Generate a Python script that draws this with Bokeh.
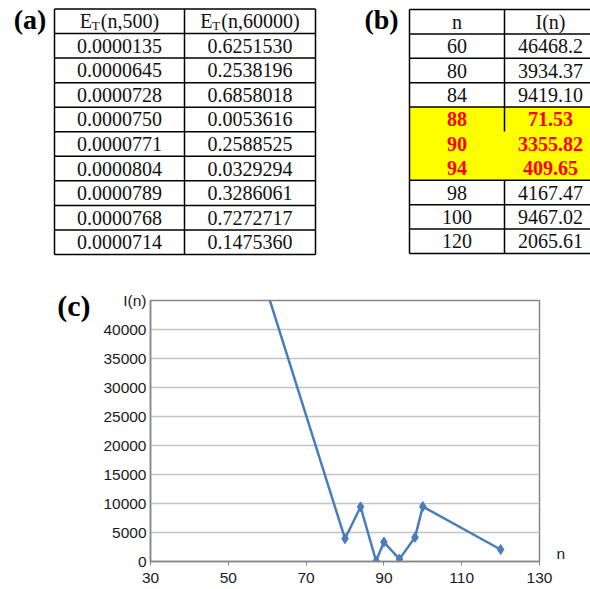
from bokeh.plotting import figure
from bokeh.layouts import column, row
from bokeh.models import Range1d, FixedTicker, LinearAxis
from bokeh.embed import file_html
from bokeh.resources import INLINE
from bokeh.core.properties import value

# ---------------- data ----------------
a_header_rest = ["(n,500)", "(n,60000)"]
a_e500 = ["0.0000135", "0.0000645", "0.0000728", "0.0000750", "0.0000771",
          "0.0000804", "0.0000789", "0.0000768", "0.0000714"]
a_e60000 = ["0.6251530", "0.2538196", "0.6858018", "0.0053616", "0.2588525",
            "0.0329294", "0.3286061", "0.7272717", "0.1475360"]

b_header = ["n", "I(n)"]
b_n = [60, 80, 84, 88, 90, 94, 98, 100, 120]
b_I = [46468.2, 3934.37, 9419.10, 71.53, 3355.82, 409.65, 4167.47, 9467.02, 2065.61]
b_I_text = ["46468.2", "3934.37", "9419.10", "71.53", "3355.82", "409.65",
            "4167.47", "9467.02", "2065.61"]
b_highlight = [False, False, False, True, True, True, False, False, False]

y_ticks = [0, 5000, 10000, 15000, 20000, 25000, 30000, 35000, 40000, 45000]
y_title = "I(n)"
x_ticks = [30, 50, 70, 90, 110, 130]
x_title = "n"
panel_c = "(c)"

SERIF = "Liberation Serif"
SANS = "Liberation Sans"
FS = "20px"

# ---------------- top: tables ----------------
top = figure(width=590, height=280, x_range=Range1d(0, 590), y_range=Range1d(280, 0),
             output_backend="svg", toolbar_location=None,
             x_axis_location=None, y_axis_location=None, min_border=0,
             outline_line_color=None)
top.grid.visible = False

# table (a)
ax = [54, 184, 315]
a_top, a_rh = 8.5, 24.55
nrows_a = 1 + len(a_e500)
a_bot = a_top + nrows_a * a_rh
hx0, hy0, hx1, hy1 = [], [], [], []
for k in range(nrows_a + 1):
    y = a_top + k * a_rh
    hx0.append(ax[0]); hx1.append(ax[2]); hy0.append(y); hy1.append(y)
for x in ax:
    hx0.append(x); hx1.append(x); hy0.append(a_top); hy1.append(a_bot)
top.segment(hx0, hy0, hx1, hy1, line_color="black", line_width=1.5)

ac = [(ax[0] + ax[1]) / 2, (ax[1] + ax[2]) / 2]
rows_y = [a_top + (k + 1.5) * a_rh for k in range(len(a_e500))]
top.text([ac[0]] * len(a_e500), rows_y, text=a_e500, text_align="center",
         text_baseline="middle", text_font=value(SERIF), text_font_size=FS, text_color="#111111")
top.text([ac[1]] * len(a_e60000), rows_y, text=a_e60000, text_align="center",
         text_baseline="middle", text_font=value(SERIF), text_font_size=FS, text_color="#111111")

# header with subscript
hy = a_top + 0.5 * a_rh
rest_w = [58.3, 78.3]
for c, rest, w in zip(ac, a_header_rest, rest_w):
    start = c - (21 + w) / 2
    top.text([start + 12], [hy], text=["E"], text_align="right", text_baseline="middle",
             text_font=value(SERIF), text_font_size=FS, text_color="#111111")
    top.text([start + 12], [hy + 4], text=["T"], text_align="left", text_baseline="middle",
             text_font=value(SERIF), text_font_size="13px", text_color="#111111")
    top.text([start + 21], [hy], text=[rest], text_align="left", text_baseline="middle",
             text_font=value(SERIF), text_font_size=FS, text_color="#111111")

# table (b)
bx = [409, 504, 596]
b_top, b_rh = 9, 24.4
nrows_b = 1 + len(b_n)
b_bot = b_top + nrows_b * b_rh
hl_idx = [i for i, h in enumerate(b_highlight) if h]
hl_top = b_top + (hl_idx[0] + 1) * b_rh
hl_bot = b_top + (hl_idx[-1] + 2) * b_rh
top.quad(left=bx[0], right=bx[2], top=hl_top, bottom=hl_bot, fill_color="#ffff00", line_color=None)

sx0, sy0, sx1, sy1 = [], [], [], []
for k in range(nrows_b + 1):
    if hl_idx[0] + 2 <= k <= hl_idx[-1] + 1:
        continue
    y = b_top + k * b_rh
    sx0.append(bx[0]); sx1.append(bx[2]); sy0.append(y); sy1.append(y)
for x in (bx[0], bx[2]):
    sx0.append(x); sx1.append(x); sy0.append(b_top); sy1.append(b_bot)
sx0 += [bx[1], bx[1]]; sx1 += [bx[1], bx[1]]
sy0 += [b_top, hl_bot]; sy1 += [hl_top + b_rh, b_bot]
top.segment(sx0, sy0, sx1, sy1, line_color="black", line_width=1.5)

bc = [(bx[0] + bx[1]) / 2, (bx[1] + bx[2]) / 2]
hy_b = b_top + 0.5 * b_rh
top.text(bc, [hy_b, hy_b], text=b_header, text_align="center", text_baseline="middle",
         text_font=value(SERIF), text_font_size=FS, text_color="#111111")
for i, (n, t, h) in enumerate(zip(b_n, b_I_text, b_highlight)):
    y = b_top + (i + 1.5) * b_rh
    style = "bold" if h else "normal"
    col = "#ff0000" if h else "#111111"
    top.text(bc, [y, y], text=[str(n), t], text_align="center", text_baseline="middle",
             text_font=value(SERIF), text_font_size=FS, text_font_style=style, text_color=col)

# panel labels
top.text([29.5, 381], [19, 19], text=["(a)", "(b)"], text_align="center", text_baseline="middle",
         text_font=value(SERIF), text_font_size="28px", text_font_style="bold", text_color="black")

# ---------------- bottom: chart ----------------
bot = figure(width=590, height=309, x_range=Range1d(30, 130), y_range=Range1d(0, 45000),
             output_backend="svg", toolbar_location=None,
             min_border_left=150, min_border_right=51, min_border_top=20, min_border_bottom=28,
             outline_line_color="#868686", outline_line_width=1.5)
bot.xgrid.visible = False
bot.ygrid.grid_line_color = "#c4c4c4"
bot.ygrid.grid_line_width = 1.5

yax = bot.yaxis[0]
yax.ticker = FixedTicker(ticks=y_ticks)
yax.major_label_overrides = {y_ticks[-1]: y_title}
yax.major_tick_out = 0
yax.major_tick_in = 0
yax.minor_tick_out = 0
yax.minor_tick_in = 0
yax.axis_line_color = "#868686"
yax.axis_line_width = 1.5
yax.major_label_standoff = 4
yax.major_label_text_font = SANS
yax.major_label_text_font_size = "15.5px"
yax.major_label_text_color = "#1a1a1a"

bot.xaxis.ticker = FixedTicker(ticks=x_ticks)
bot.xaxis.major_tick_out = 4
bot.xaxis.major_tick_in = 0
bot.xaxis.minor_tick_out = 0
bot.xaxis.minor_tick_in = 0
bot.xaxis.axis_line_color = "#868686"
bot.xaxis.axis_line_width = 1.5
bot.xaxis.major_tick_line_color = "#868686"
bot.xaxis.major_label_standoff = 7
bot.xaxis.major_label_text_font = SANS
bot.xaxis.major_label_text_font_size = "15.5px"
bot.xaxis.major_label_text_color = "#1a1a1a"

# "n" title at right end of the x axis (one-tick right axis)
n_pos = 1380
rax = LinearAxis(ticker=FixedTicker(ticks=[n_pos]), major_label_overrides={n_pos: x_title},
                 axis_line_color=None, major_tick_line_color=None, minor_tick_line_color=None,
                 major_label_standoff=11, major_label_text_font=SANS,
                 major_label_text_font_size="15.5px", major_label_text_color="#1a1a1a")
bot.add_layout(rax, "right")

# "(c)" panel label (one-tick outer left axis)
c_pos = 44140
cax = LinearAxis(ticker=FixedTicker(ticks=[c_pos]), major_label_overrides={c_pos: panel_c},
                 axis_line_color=None, major_tick_line_color=None, minor_tick_line_color=None,
                 major_label_standoff=4, major_label_text_font=SERIF,
                 major_label_text_font_size="30px", major_label_text_font_style="bold",
                 major_label_text_color="black")
bot.add_layout(cax, "left")

bot.line(b_n, b_I, line_color="#4a7ebb", line_width=2.5)
bot.scatter(b_n, b_I, marker="diamond", size=10, color="#4a7ebb")

layout = column(row(top), row(bot), spacing=0)
open("out.html", "w").write(file_html(layout, INLINE))
